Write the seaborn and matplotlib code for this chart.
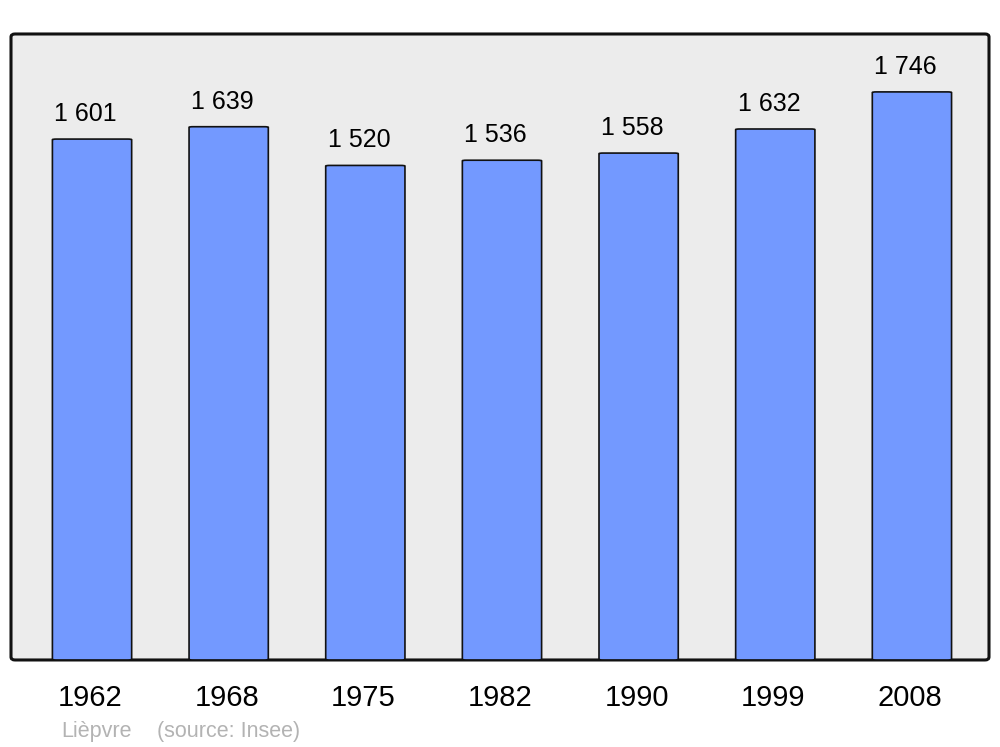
import matplotlib
matplotlib.use("Agg")
import matplotlib.pyplot as plt
import pandas as pd
import seaborn as sns
from matplotlib.patches import FancyBboxPatch
from matplotlib.transforms import ScaledTranslation

years = ["1962", "1968", "1975", "1982", "1990", "1999", "2008"]
population = [1601, 1639, 1520, 1536, 1558, 1632, 1746]
commune = "Lièpvre"
source = "(source: Insee)"

df = pd.DataFrame({"year": years, "population": population})

sns.set_style("white")
plt.rcParams["font.family"] = ["Liberation Sans", "DejaVu Sans"]

fig = plt.figure(figsize=(10, 7.47), dpi=100)
ax = fig.add_axes([0.011, 0.1165, 0.978, 0.838])
ax.set_facecolor("none")

# rounded grey frame behind the axes
frame = FancyBboxPatch((0.011, 0.1165), 0.978, 0.838,
                       boxstyle="round,pad=0,rounding_size=0.004",
                       transform=fig.transFigure, facecolor="#ececec",
                       edgecolor="#111111", linewidth=2.2, zorder=-5)
fig.patches.append(frame)

sns.barplot(data=df, x="year", y="population", color="#7399ff",
            saturation=1, width=0.58, edgecolor="#111111", linewidth=1.2, ax=ax)

# swap rectangles for slightly rounded ones
for p in list(ax.patches):
    x, y = p.get_x(), p.get_y()
    w, h = p.get_width(), p.get_height()
    r = FancyBboxPatch((x, y), w, h, boxstyle="round,pad=0,rounding_size=0.03",
                       mutation_aspect=60, facecolor="#7399ff",
                       edgecolor="#111111", linewidth=1.2)
    p.remove()
    ax.add_patch(r)

for i, v in enumerate(population):
    label = f"{v:,}".replace(",", " ")
    ax.annotate(label, (i, v), xytext=(-4.5, 13), textcoords="offset points",
                ha="center", va="baseline", fontsize=18, color="black")

ax.set_xlim(-0.593, 6.564)
ax.set_ylim(0, 1924)
ax.set_yticks([])
ax.set_xlabel("")
ax.set_ylabel("")
ax.tick_params(axis="x", length=0, pad=17, labelsize=21, labelcolor="black")
shift = ScaledTranslation(-2 / 100, 0, fig.dpi_scale_trans)
for t in ax.get_xticklabels():
    t.set_transform(t.get_transform() + shift)
for s in ax.spines.values():
    s.set_visible(False)

fig.text(0.061, 0.0134, commune, fontsize=15.5, color="#b3b3b3", va="baseline")
fig.text(0.157, 0.0134, source, fontsize=15.5, color="#b3b3b3", va="baseline")

fig.savefig("out.png", dpi=100)
